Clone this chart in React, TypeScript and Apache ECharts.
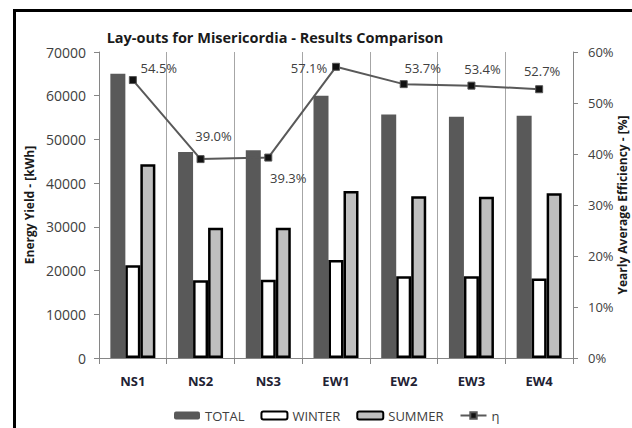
import React, { useEffect, useRef } from "react";
import * as echarts from "echarts";

const categories = ["NS1", "NS2", "NS3", "EW1", "EW2", "EW3", "EW4"];
const totalValues = [65000, 47100, 47500, 60000, 55700, 55200, 55400];
const winterValues = [21200, 17800, 17900, 22400, 18700, 18700, 18200];
const summerValues = [44300, 29800, 29800, 38200, 37000, 36900, 37700];
const efficiencyValues = [0.545, 0.39, 0.393, 0.571, 0.537, 0.534, 0.527];
const leftTicks = { min: 0, max: 70000, interval: 10000 };
const rightTicks = { min: 0, max: 0.6, interval: 0.1 };

const labelOffsets: [number, number][] = [
  [26, -12],
  [13, -23],
  [20, 20],
  [-27, 1],
  [19, -16],
  [11, -17],
  [3, -18],
];

const FONT = "Open Sans";

export default function App() {
  const ref = useRef<HTMLDivElement>(null);
  useEffect(() => {
    document.body.style.margin = "0";
    const chart = echarts.init(ref.current!, null, { renderer: "svg" });
    const gridColor = "#a6a6a6";
    const axisColor = "#868686";
    const textColor = "#404040";
    chart.setOption({
      animation: false,
      backgroundColor: "#ffffff",
      textStyle: { fontFamily: FONT },
      title: {
        text: "Lay-outs for Misericordia - Results Comparison",
        left: 270,
        textAlign: "center",
        top: 25,
        textStyle: { fontFamily: FONT, fontSize: 14.5, fontWeight: "bold", color: "#1a1a1a" },
      },
      graphic: [
        { type: "line", shape: { x1: 13, y1: 10.5, x2: 632, y2: 10.5 }, style: { stroke: "#000", lineWidth: 3 } },
        { type: "line", shape: { x1: 14.5, y1: 9, x2: 14.5, y2: 428 }, style: { stroke: "#000", lineWidth: 3 } },
      ],
      legend: {
        left: 169,
        top: 404,
        itemWidth: 26,
        itemHeight: 8,
        itemGap: 16,
        textStyle: { fontFamily: FONT, fontSize: 13, color: textColor },
        data: ["TOTAL", "WINTER", "SUMMER", "η"],
      },
      grid: { left: 99, right: 59, top: 52, bottom: 70, outerBoundsMode: "none", containLabel: false },
      xAxis: [
        {
          type: "category",
          data: categories,
          position: "bottom",
          axisLine: { lineStyle: { color: axisColor, width: 1 } },
          axisTick: { show: true, length: 6, lineStyle: { color: axisColor } },
          axisLabel: {
            fontFamily: FONT,
            fontSize: 13,
            fontWeight: "bold",
            color: "#222233",
            margin: 16,
          },
          splitLine: { show: true, lineStyle: { color: gridColor, width: 1 } },
        },
        {
          type: "category",
          data: categories,
          position: "top",
          axisLine: { show: true, lineStyle: { color: axisColor, width: 1 } },
          axisTick: { show: false },
          axisLabel: { show: false },
          splitLine: { show: false },
        },
      ],
      yAxis: [
        {
          type: "value",
          position: "left",
          min: leftTicks.min,
          max: leftTicks.max,
          interval: leftTicks.interval,
          name: "Energy Yield - [kWh]",
          nameLocation: "middle",
          nameGap: 64,
          nameMoveOverlap: false,
          nameTextStyle: { fontFamily: FONT, fontSize: 12, fontWeight: "bold", color: "#1a1a1a" },
          axisLine: { show: true, lineStyle: { color: axisColor } },
          axisTick: { show: true, length: 5, lineStyle: { color: axisColor } },
          axisLabel: {
            fontFamily: FONT,
            fontSize: 14,
            color: textColor,
            margin: 13,
            formatter: (v: number) => String(v),
          },
          splitLine: { show: false },
        },
        {
          type: "value",
          position: "right",
          min: rightTicks.min,
          max: rightTicks.max,
          interval: rightTicks.interval,
          name: "Yearly Average Efficiency - [%]",
          nameLocation: "middle",
          nameGap: 43,
          nameMoveOverlap: false,
          nameTextStyle: { fontFamily: FONT, fontSize: 12, fontWeight: "bold", color: "#1a1a1a" },
          axisLine: { show: true, lineStyle: { color: axisColor } },
          axisTick: { show: true, length: 5, lineStyle: { color: axisColor } },
          axisLabel: {
            fontFamily: FONT,
            fontSize: 13,
            color: textColor,
            margin: 15,
            formatter: (v: number) => Math.round(v * 100) + "%",
          },
          splitLine: { show: false },
        },
      ],
      series: [
        {
          name: "TOTAL",
          type: "bar",
          data: totalValues,
          barWidth: 15,
          barGap: "0%",
          itemStyle: { color: "#595959" },
        },
        {
          name: "WINTER",
          type: "bar",
          data: winterValues,
          barWidth: 15,
          barGap: "0%",
          itemStyle: { color: "#ffffff", borderColor: "#000000", borderWidth: 2.5 },
        },
        {
          name: "SUMMER",
          type: "bar",
          data: summerValues,
          barWidth: 15,
          barGap: "0%",
          itemStyle: { color: "#bfbfbf", borderColor: "#000000", borderWidth: 2.5 },
        },
        {
          name: "η",
          type: "line",
          yAxisIndex: 1,
          data: efficiencyValues.map((v, i) => ({
            value: v,
            label: { offset: labelOffsets[i] },
          })),
          symbol: "rect",
          symbolSize: 7,
          lineStyle: { color: "#595959", width: 2 },
          itemStyle: { color: "#111111", borderColor: "#555555", borderWidth: 1 },
          label: {
            show: true,
            position: "inside",
            fontFamily: FONT,
            fontSize: 13,
            color: textColor,
            formatter: (p: any) => (p.value * 100).toFixed(1) + "%",
          },
          z: 10,
        },
      ],
    });
    return () => chart.dispose();
  }, []);
  return (
    <div
      ref={ref}
      style={{ position: "absolute", left: 0, top: 0, width: 632, height: 428 }}
    />
  );
}
